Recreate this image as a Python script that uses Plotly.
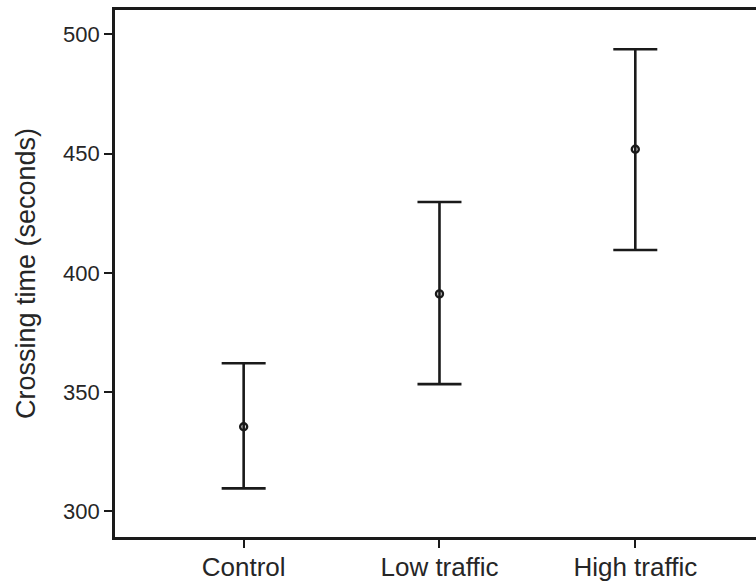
import plotly.graph_objects as go

categories = ["Control", "Low traffic", "High traffic"]
means = [335.5, 391.2, 451.8]
upper = [362.1, 429.7, 493.7]
lower = [309.7, 353.4, 409.6]
y_ticks = [300, 350, 400, 450, 500]

err_plus = [u - m for u, m in zip(upper, means)]
err_minus = [m - l for m, l in zip(means, lower)]

fig = go.Figure()
fig.add_trace(go.Scatter(
    x=categories, y=means, mode="markers",
    marker=dict(symbol="circle-open", size=7, color="#1a1a1a", line=dict(width=2.4, color="#1a1a1a")),
    error_y=dict(type="data", symmetric=False, array=err_plus, arrayminus=err_minus,
                 color="#1a1a1a", thickness=2.6, width=22),
    showlegend=False,
))

fig.update_layout(
    width=762, height=581,
    margin=dict(l=115, r=0, t=10, b=44),
    paper_bgcolor="white", plot_bgcolor="white",
    font=dict(family="Liberation Sans, Arial, sans-serif", size=23, color="#262626"),
)
fig.update_xaxes(
    type="category", range=[-0.657, 2.647],
    showline=True, linecolor="#1a1a1a", linewidth=2.6, mirror=True,
    ticks="outside", ticklen=8, tickwidth=2.4, tickcolor="#1a1a1a",
    showgrid=False, zeroline=False,
    tickfont=dict(size=26, color="#262626"),
    ticklabelstandoff=-3,
)
fig.update_yaxes(
    range=[289.31, 510.18],
    tickvals=y_ticks,
    showline=True, linecolor="#1a1a1a", linewidth=2.6, mirror=False,
    ticks="outside", ticklen=8, tickwidth=2.4, tickcolor="#1a1a1a",
    showgrid=False, zeroline=False,
    tickfont=dict(size=22, color="#262626"),
    title=dict(text="Crossing time (seconds)", font=dict(size=27, color="#262626"), standoff=20),
)

fig.write_html("out.html", config={"displayModeBar": False},
               post_script="document.body.style.margin='0px';document.body.style.overflow='hidden';")
